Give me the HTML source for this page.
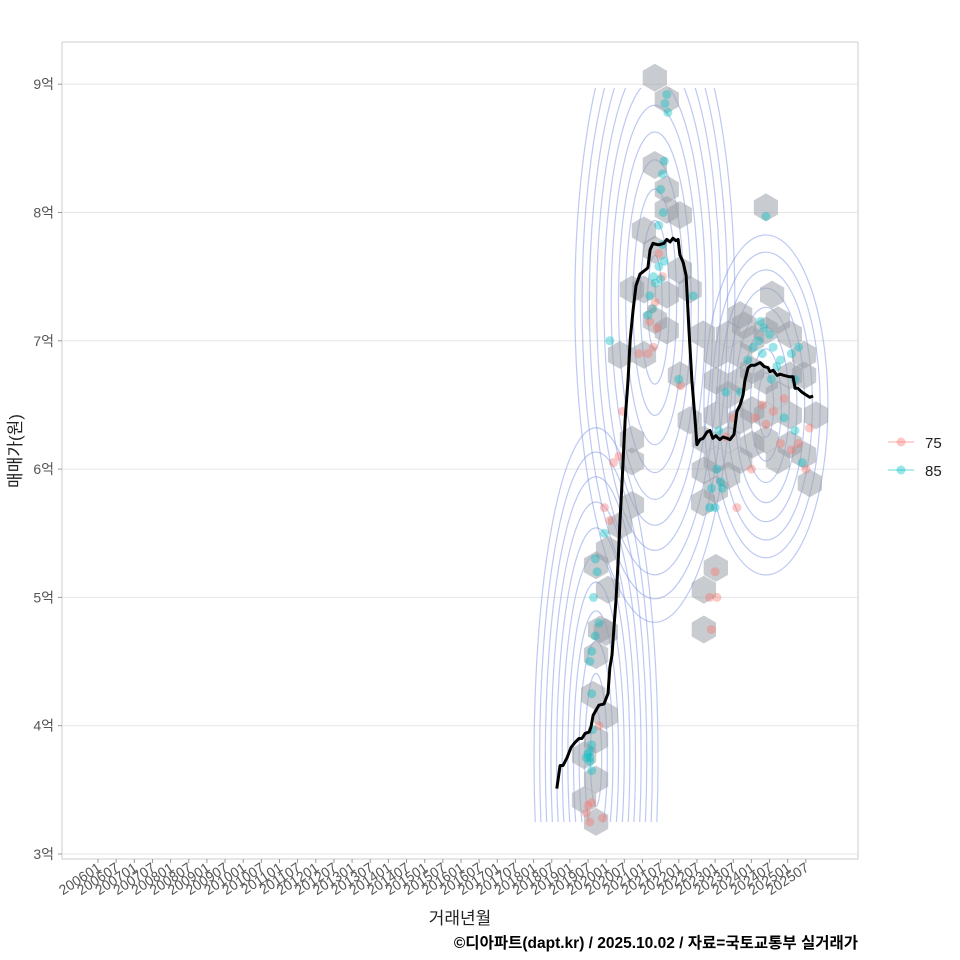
<!DOCTYPE html>
<html><head><meta charset="utf-8"><style>
html,body{margin:0;padding:0;background:#fff;overflow:hidden;width:960px;height:960px}
svg{display:block;font-family:"Liberation Sans","Noto Sans CJK KR",sans-serif}
</style></head><body>
<svg id="chart" width="960" height="960" viewBox="0 0 960 960" xmlns="http://www.w3.org/2000/svg" overflow="hidden">
<defs><clipPath id="cl"><rect x="62" y="88" width="796" height="734"/></clipPath><clipPath id="pc"><rect x="62" y="42" width="796" height="817"/></clipPath></defs>
<rect x="62" y="42" width="796" height="817" fill="#fff" stroke="#cccccc" stroke-width="1"/>
<g id="grid"></g>
<g id="contours" clip-path="url(#cl)"></g>
<g id="hexes" clip-path="url(#pc)"></g>
<g id="points"></g>
<g id="line"></g>
<g id="yaxis"></g>
<g id="xaxis"></g>
<text x="460" y="924" font-size="17" text-anchor="middle" fill="#222">거래년월</text>
<text transform="translate(21,451) rotate(-90)" font-size="17" text-anchor="middle" fill="#222">매매가(원)</text>
<text x="858" y="948" font-size="15.5" font-weight="bold" text-anchor="end" fill="#000">©디아파트(dapt.kr) / 2025.10.02 / 자료=국토교통부 실거래가</text>
<g>
 <g>
  <line x1="888" y1="442" x2="914" y2="442" stroke="#f8766d" stroke-opacity="0.4" stroke-width="1.5"/>
  <circle cx="901" cy="442" r="4.5" fill="#f8766d" fill-opacity="0.4"/>
  <text x="925" y="448" font-size="15" fill="#222">75</text>
 </g>
 <g>
  <line x1="888" y1="470" x2="914" y2="470" stroke="#00bfc4" stroke-opacity="0.4" stroke-width="1.5"/>
  <circle cx="901" cy="470" r="4.5" fill="#00bfc4" fill-opacity="0.4"/>
  <text x="925" y="476" font-size="15" fill="#222">85</text>
 </g>
</g>
</svg>
<script>
const yTicks=[3,4,5,6,7,8,9];
const yTickLabels=["3억","4억","5억","6억","7억","8억","9억"];
const lineT=[2018.64,2018.73,2018.81,2018.92,2019.03,2019.14,2019.25,2019.33,2019.42,2019.53,2019.58,2019.64,2019.72,2019.80,2019.94,2020.05,2020.10,2020.16,2020.21,2020.27,2020.33,2020.38,2020.44,2020.52,2020.60,2020.66,2020.74,2020.82,2020.93,2021.07,2021.15,2021.21,2021.29,2021.40,2021.48,2021.59,2021.67,2021.76,2021.84,2021.92,2021.98,2022.03,2022.12,2022.20,2022.28,2022.36,2022.45,2022.50,2022.58,2022.67,2022.78,2022.86,2022.94,2023.02,2023.13,2023.22,2023.33,2023.41,2023.52,2023.60,2023.69,2023.77,2023.82,2023.91,2023.99,2024.10,2024.24,2024.35,2024.46,2024.51,2024.60,2024.71,2024.79,2024.90,2025.04,2025.15,2025.20,2025.28,2025.39,2025.50,2025.61,2025.70];
const lineV=[3.51,3.69,3.69,3.75,3.83,3.87,3.90,3.90,3.94,3.95,3.99,4.08,4.12,4.16,4.17,4.25,4.45,4.55,4.75,4.98,5.29,5.60,5.92,6.38,6.69,7.01,7.24,7.43,7.52,7.55,7.57,7.71,7.76,7.75,7.75,7.76,7.79,7.77,7.80,7.78,7.79,7.67,7.61,7.51,7.08,6.69,6.38,6.19,6.23,6.24,6.29,6.30,6.24,6.26,6.23,6.25,6.24,6.23,6.27,6.45,6.50,6.58,6.69,6.79,6.81,6.81,6.83,6.80,6.79,6.76,6.77,6.73,6.74,6.73,6.72,6.72,6.63,6.63,6.60,6.58,6.56,6.57];
const hexT=[2021.34,2021.67,2021.34,2021.67,2021.04,2021.67,2022.03,2021.34,2021.04,2020.71,2021.67,2022.03,2022.30,2021.34,2021.67,2020.38,2021.04,2022.03,2022.67,2024.40,2024.57,2023.69,2023.36,2023.02,2023.69,2024.02,2024.40,2024.73,2025.06,2025.45,2023.02,2023.36,2023.69,2024.02,2024.40,2024.73,2025.06,2025.45,2023.02,2023.69,2024.02,2024.40,2025.06,2025.78,2022.69,2023.02,2023.36,2023.69,2024.02,2024.40,2024.73,2025.06,2025.45,2025.61,2022.67,2023.02,2023.36,2020.71,2020.71,2020.38,2020.71,2020.05,2019.72,2020.05,2019.83,2019.72,2019.99,2023.02,2022.69,2022.69,2019.64,2019.99,2019.72,2019.72,2019.39,2019.72,2019.39,2022.69,2022.30,2023.80];
const hexV=[9.05,8.88,8.37,8.18,7.86,8.02,7.98,7.71,7.40,7.40,7.36,7.55,7.40,7.16,7.08,6.89,6.89,6.73,7.05,8.04,7.36,7.20,7.05,6.89,6.89,7.01,7.08,7.16,7.05,6.89,6.69,6.58,6.69,6.77,6.69,6.58,6.73,6.73,6.42,6.38,6.46,6.42,6.42,6.42,6.23,6.07,6.23,6.07,6.19,6.23,6.07,6.19,6.11,5.89,5.74,5.84,5.95,6.23,6.06,5.56,5.72,5.37,5.25,5.06,4.75,4.55,4.73,5.23,5.06,4.75,4.24,4.08,3.89,3.58,3.42,3.25,3.77,5.99,6.38,7.12];
const p85T=[2021.67,2021.62,2021.70,2021.60,2021.55,2021.50,2021.57,2021.45,2021.55,2021.60,2021.45,2021.50,2021.30,2021.35,2021.20,2021.15,2021.28,2022.40,2024.40,2024.25,2024.35,2024.50,2024.20,2024.05,2024.30,2023.90,2024.60,2024.80,2025.10,2025.30,2025.20,2024.55,2024.70,2023.70,2023.30,2023.10,2023.05,2023.15,2022.90,2023.20,2023.00,2022.85,2024.90,2025.20,2025.40,2019.95,2019.70,2019.75,2019.65,2019.80,2019.70,2019.60,2019.55,2019.60,2019.55,2019.50,2019.55,2019.60,2019.45,2019.55,2019.60,2019.62,2020.10,2022.00];
const p85V=[8.92,8.85,8.78,8.40,8.30,8.18,8.00,7.90,7.75,7.62,7.58,7.48,7.50,7.45,7.35,7.20,7.25,7.35,7.97,7.15,7.10,7.05,7.00,6.95,6.90,6.85,6.95,6.85,6.90,6.95,6.70,6.70,6.80,6.60,6.60,6.30,6.00,5.90,5.85,5.85,5.70,5.70,6.40,6.30,6.05,5.50,5.30,5.20,5.00,4.80,4.70,4.58,4.50,4.25,3.80,3.78,3.72,3.65,3.75,3.75,3.85,3.97,7.00,6.70];
const p75T=[2021.45,2021.35,2021.25,2021.20,2021.40,2021.30,2021.15,2020.90,2021.55,2024.30,2024.10,2024.40,2024.60,2024.80,2025.10,2025.30,2025.50,2025.60,2024.90,2024.00,2023.50,2023.30,2023.60,2022.85,2023.05,2022.90,2023.00,2020.35,2020.20,2020.45,2019.95,2020.10,2019.80,2019.60,2019.50,2019.45,2019.55,2019.90,2022.05];
const p75V=[7.68,7.30,7.25,7.15,7.10,6.95,6.90,6.90,7.50,6.50,6.40,6.35,6.45,6.20,6.15,6.20,6.00,6.32,6.55,6.00,6.40,6.25,5.70,5.00,5.00,4.75,5.20,6.10,6.05,6.45,5.70,5.60,4.00,3.40,3.38,3.32,3.25,3.28,6.65];
const NS="http://www.w3.org/2000/svg";
const X=t=>98+(t-2006)*36.3;
const Y=v=>854-(v-3)*128.3;
function mk(tag,parent,attrs){const e=document.createElementNS(NS,tag);for(const k in attrs)e.setAttribute(k,attrs[k]);parent.appendChild(e);return e;}
const grid=document.getElementById('grid'),ya=document.getElementById('yaxis'),xa=document.getElementById('xaxis');
yTicks.forEach((v,i)=>{
 const g=mk('line',grid,{x1:62,x2:858,y1:Y(v),y2:Y(v),stroke:'#e6e6e6','stroke-width':1});
 
 
 const tk=mk('line',ya,{x1:58,x2:62,y1:Y(v),y2:Y(v),stroke:'#999','stroke-width':1});
 
 
 const tx=mk('text',ya,{x:54,y:Y(v)+5,'font-size':14,'text-anchor':'end',fill:'#555'});
 
 
 tx.textContent=yTickLabels[i];
});
for(let y=2006;y<=2025;y++){for(const m of [1,7]){
 const t=y+(m-1)/12,x=X(t);
 const tk=mk('line',xa,{x1:x,x2:x,y1:859,y2:863,stroke:'#999','stroke-width':1});
 
 
 const tx=mk('text',xa,{transform:`translate(${x+4},${870}) rotate(-33)`,'font-size':14,'text-anchor':'end',fill:'#555'});
 
 
 tx.textContent=y+(m<10?'0':'')+m;
}}
const cg=document.getElementById('contours');
const clusters=[{t:2019.72,v:3.75,rx:62,ry:330,n:11},{t:2021.34,v:7.3,rx:80,ry:320,n:11},{t:2024.4,v:6.5,rx:62,ry:170,n:8}];
clusters.forEach(c=>{for(let k=1;k<=c.n;k++){
 const f=k/c.n;
 const e=mk('ellipse',cg,{cx:X(c.t),cy:Y(c.v),rx:c.rx*f,ry:c.ry*Math.pow(f,0.8),fill:'none',stroke:'#7b93e6','stroke-opacity':0.5,'stroke-width':1.2});
 
 
}});
const hg=document.getElementById('hexes');
hexT.forEach((t,i)=>{
 const cx=X(t),cy=Y(hexV[i]),r=14;let pts=[];
 for(let a=0;a<6;a++){const ang=Math.PI/6+a*Math.PI/3;pts.push((cx+r*Math.cos(ang)).toFixed(1)+','+(cy+r*Math.sin(ang)).toFixed(1));}
 const h=mk('polygon',hg,{points:pts.join(' '),fill:'#9aa1a8','fill-opacity':0.55});
 
 
});
const pg=document.getElementById('points');
p75T.forEach((t,i)=>{const c=mk('circle',pg,{cx:X(t),cy:Y(p75V[i]),r:4.5,fill:'#f8766d','fill-opacity':0.4});
 
 });
p85T.forEach((t,i)=>{const c=mk('circle',pg,{cx:X(t),cy:Y(p85V[i]),r:4.5,fill:'#00bfc4','fill-opacity':0.4});
 
 });
const d=lineT.map((t,i)=>(i?'L':'M')+X(t).toFixed(1)+','+Y(lineV[i]).toFixed(1)).join('');
const p=mk('path',document.getElementById('line'),{d:d,fill:'none',stroke:'#000','stroke-width':3,'stroke-linejoin':'round'});


</script>
</body></html>
